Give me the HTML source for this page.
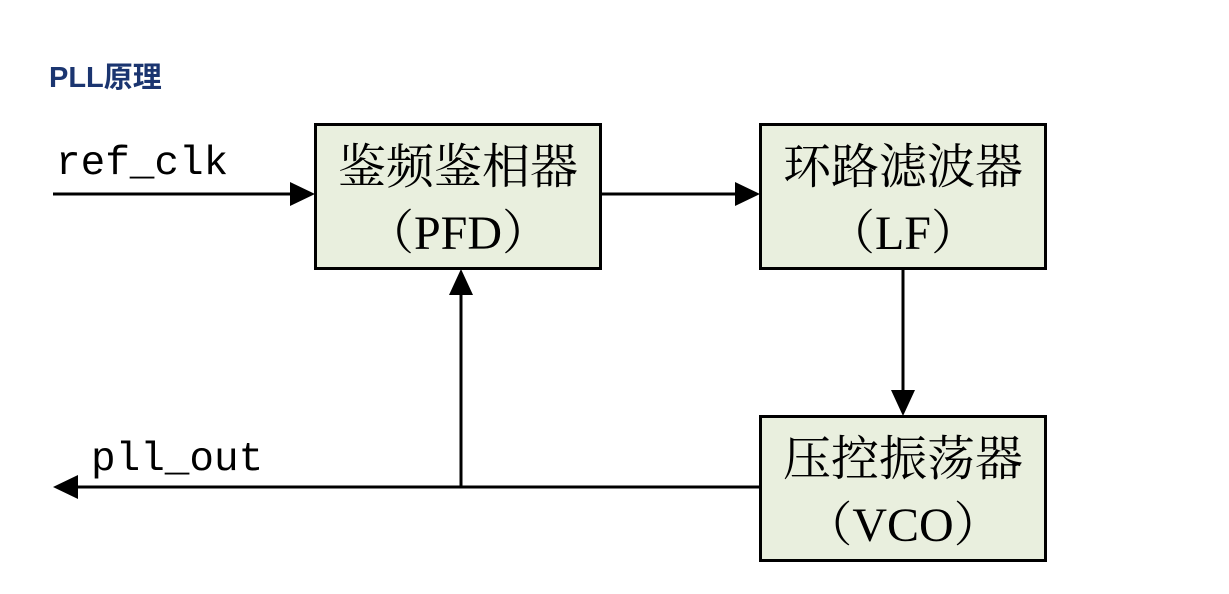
<!DOCTYPE html>
<html><head><meta charset="utf-8"><style>
body{margin:0;background:#fff;width:1229px;height:594px;overflow:hidden;position:relative}
.t{position:absolute;left:49px;top:54px;font:bold 29px "Liberation Sans","Noto Sans CJK SC",sans-serif;color:#1b3570}
.b{position:absolute;box-sizing:border-box;border:3px solid #000;background:#e9efde;width:288px;height:147px;text-align:center;font:48px "Liberation Serif","Noto Serif CJK SC",serif;color:#000;line-height:66px;padding-top:9px;white-space:nowrap}
.l{position:absolute;font:41px "Liberation Mono",monospace;color:#000}
</style></head><body>
<div class="t">PLL原理</div>
<svg width="1229" height="594" style="position:absolute;left:0;top:0">
<g stroke="#000" stroke-width="3" fill="none">
<line x1="53" y1="194" x2="292" y2="194"/>
<line x1="601" y1="194" x2="737" y2="194"/>
<line x1="903" y1="269" x2="903" y2="392"/>
<line x1="760" y1="487" x2="76" y2="487"/>
<line x1="461" y1="487" x2="461" y2="293"/>
</g>
<g fill="#000">
<polygon points="290,182 315,194 290,206"/>
<polygon points="735,182 760,194 735,206"/>
<polygon points="891,390 903,416 915,390"/>
<polygon points="78,475 53,487 78,499"/>
<polygon points="449,295 461,269 473,295"/>
</g>
</svg>
<div class="b" style="left:314px;top:123px">鉴频鉴相器<br>（PFD）</div>
<div class="b" style="left:759px;top:123px">环路滤波器<br>（LF）</div>
<div class="b" style="left:759px;top:415px">压控振荡器<br>（VCO）</div>
<div class="l" style="left:56px;top:141px">ref_clk</div>
<div class="l" style="left:91px;top:437px">pll_out</div>
</body></html>
